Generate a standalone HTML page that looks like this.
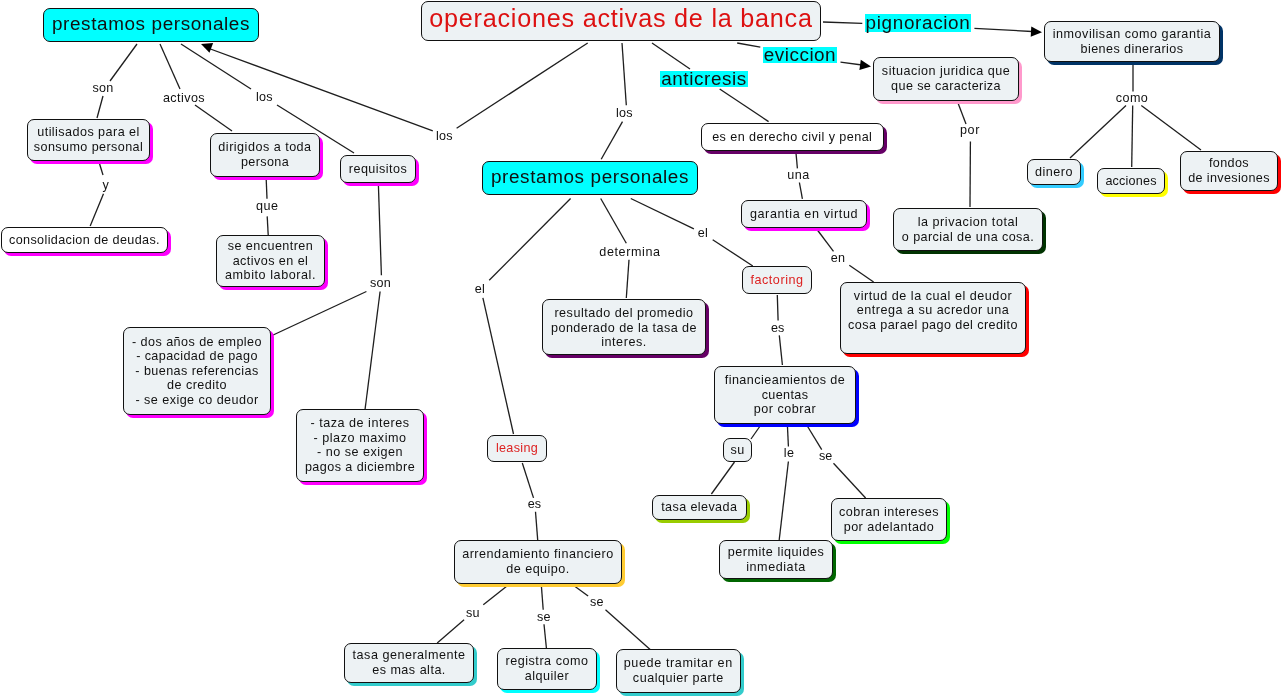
<!DOCTYPE html>
<html><head><meta charset="utf-8"><title>mapa conceptual</title>
<style>
html,body{margin:0;padding:0;background:#fff;}
body{will-change:transform;width:1284px;height:698px;position:relative;overflow:hidden;font-family:"Liberation Sans",sans-serif;color:#111;}
svg.links{position:absolute;left:0;top:0;}
.n{position:absolute;box-sizing:border-box;border:1.4px solid #111;border-radius:7px;display:flex;flex-direction:column;align-items:center;justify-content:center;text-align:center;line-height:14.6px;white-space:nowrap;}
.n span{display:block;}
.l{position:absolute;white-space:nowrap;line-height:1;}
.c{position:absolute;background:#00ffff;color:#111;white-space:nowrap;display:flex;align-items:center;justify-content:center;}
</style></head><body>

<svg class="links" width="1284" height="698" viewBox="0 0 1284 698">
<line x1="137" y1="44" x2="110" y2="81" stroke="#1e1e1e" stroke-width="1.3"/>
<line x1="103" y1="96" x2="97" y2="118" stroke="#1e1e1e" stroke-width="1.3"/>
<line x1="99" y1="162" x2="103" y2="175" stroke="#1e1e1e" stroke-width="1.3"/>
<line x1="103.5" y1="193.8" x2="90.2" y2="226" stroke="#1e1e1e" stroke-width="1.3"/>
<line x1="160" y1="44" x2="180" y2="89" stroke="#1e1e1e" stroke-width="1.3"/>
<line x1="195" y1="105" x2="232" y2="131" stroke="#1e1e1e" stroke-width="1.3"/>
<line x1="181" y1="44" x2="251" y2="89" stroke="#1e1e1e" stroke-width="1.3"/>
<line x1="277" y1="105" x2="354" y2="153" stroke="#1e1e1e" stroke-width="1.3"/>
<line x1="587.7" y1="43" x2="456.6" y2="128.3" stroke="#1e1e1e" stroke-width="1.3"/>
<line x1="432.8" y1="130.8" x2="205" y2="47" stroke="#1e1e1e" stroke-width="1.3"/>
<line x1="622" y1="43" x2="626.3" y2="105.3" stroke="#1e1e1e" stroke-width="1.3"/>
<line x1="622.5" y1="121.6" x2="601.2" y2="159.2" stroke="#1e1e1e" stroke-width="1.3"/>
<line x1="652" y1="43" x2="690" y2="69" stroke="#1e1e1e" stroke-width="1.3"/>
<line x1="719.7" y1="89" x2="768.6" y2="121.6" stroke="#1e1e1e" stroke-width="1.3"/>
<line x1="737.2" y1="43" x2="760.3" y2="47.1" stroke="#1e1e1e" stroke-width="1.3"/>
<line x1="840.5" y1="62.2" x2="862" y2="65" stroke="#1e1e1e" stroke-width="1.3"/>
<line x1="823" y1="22" x2="862.3" y2="23.3" stroke="#1e1e1e" stroke-width="1.3"/>
<line x1="974.4" y1="28.3" x2="1032" y2="31.5" stroke="#1e1e1e" stroke-width="1.3"/>
<line x1="1133" y1="61" x2="1133" y2="91.4" stroke="#1e1e1e" stroke-width="1.3"/>
<line x1="1126" y1="105.5" x2="1070" y2="158" stroke="#1e1e1e" stroke-width="1.3"/>
<line x1="1132.7" y1="105.5" x2="1131.7" y2="167" stroke="#1e1e1e" stroke-width="1.3"/>
<line x1="1141.3" y1="105.5" x2="1201" y2="150" stroke="#1e1e1e" stroke-width="1.3"/>
<line x1="958" y1="103" x2="966" y2="124" stroke="#1e1e1e" stroke-width="1.3"/>
<line x1="970.4" y1="141.4" x2="970" y2="207" stroke="#1e1e1e" stroke-width="1.3"/>
<line x1="795.9" y1="152" x2="797.4" y2="168.4" stroke="#1e1e1e" stroke-width="1.3"/>
<line x1="799.4" y1="182.5" x2="802.4" y2="198.8" stroke="#1e1e1e" stroke-width="1.3"/>
<line x1="817.4" y1="230" x2="833.5" y2="251.4" stroke="#1e1e1e" stroke-width="1.3"/>
<line x1="849.3" y1="265.2" x2="873.6" y2="282" stroke="#1e1e1e" stroke-width="1.3"/>
<line x1="570.6" y1="198.5" x2="489.2" y2="280.3" stroke="#1e1e1e" stroke-width="1.3"/>
<line x1="482.9" y1="297.8" x2="513.5" y2="434" stroke="#1e1e1e" stroke-width="1.3"/>
<line x1="600.7" y1="198.5" x2="626.3" y2="243.2" stroke="#1e1e1e" stroke-width="1.3"/>
<line x1="629" y1="259.7" x2="626.3" y2="298" stroke="#1e1e1e" stroke-width="1.3"/>
<line x1="630.8" y1="198.5" x2="693.9" y2="228.9" stroke="#1e1e1e" stroke-width="1.3"/>
<line x1="712.7" y1="239.7" x2="752.8" y2="266" stroke="#1e1e1e" stroke-width="1.3"/>
<line x1="777.3" y1="295" x2="778.1" y2="320.4" stroke="#1e1e1e" stroke-width="1.3"/>
<line x1="779.3" y1="335.4" x2="782.4" y2="365" stroke="#1e1e1e" stroke-width="1.3"/>
<line x1="760.8" y1="425" x2="751" y2="439" stroke="#1e1e1e" stroke-width="1.3"/>
<line x1="734.5" y1="462" x2="711.4" y2="494" stroke="#1e1e1e" stroke-width="1.3"/>
<line x1="787.4" y1="425" x2="788.4" y2="446.5" stroke="#1e1e1e" stroke-width="1.3"/>
<line x1="788.4" y1="461.5" x2="779.2" y2="540" stroke="#1e1e1e" stroke-width="1.3"/>
<line x1="806.7" y1="425" x2="821.7" y2="449.7" stroke="#1e1e1e" stroke-width="1.3"/>
<line x1="833.5" y1="463.3" x2="865.6" y2="498" stroke="#1e1e1e" stroke-width="1.3"/>
<line x1="378.4" y1="185" x2="381.4" y2="275.3" stroke="#1e1e1e" stroke-width="1.3"/>
<line x1="366.4" y1="291.5" x2="271" y2="336" stroke="#1e1e1e" stroke-width="1.3"/>
<line x1="380.1" y1="291.5" x2="365.1" y2="409" stroke="#1e1e1e" stroke-width="1.3"/>
<line x1="266.2" y1="179" x2="267" y2="198.8" stroke="#1e1e1e" stroke-width="1.3"/>
<line x1="267.2" y1="216.4" x2="268.2" y2="235" stroke="#1e1e1e" stroke-width="1.3"/>
<line x1="522.3" y1="463" x2="533.5" y2="497.9" stroke="#1e1e1e" stroke-width="1.3"/>
<line x1="535.5" y1="511.7" x2="537.7" y2="540" stroke="#1e1e1e" stroke-width="1.3"/>
<line x1="507" y1="586" x2="483.3" y2="604.8" stroke="#1e1e1e" stroke-width="1.3"/>
<line x1="464.1" y1="619.8" x2="437.2" y2="643" stroke="#1e1e1e" stroke-width="1.3"/>
<line x1="541.4" y1="586" x2="543.2" y2="609.8" stroke="#1e1e1e" stroke-width="1.3"/>
<line x1="544" y1="624.3" x2="546.4" y2="648" stroke="#1e1e1e" stroke-width="1.3"/>
<line x1="574.4" y1="586" x2="588.1" y2="596.1" stroke="#1e1e1e" stroke-width="1.3"/>
<line x1="605.5" y1="609.8" x2="650.7" y2="650" stroke="#1e1e1e" stroke-width="1.3"/>
<polygon points="201.0,44.0 213.1,43.0 209.5,52.7" fill="#000"/>
<polygon points="871.0,66.4 859.4,70.1 860.8,59.7" fill="#000"/>
<polygon points="1042.0,32.3 1030.7,36.8 1031.3,26.5" fill="#000"/>
</svg>
<div class="n" style="left:43px;top:8px;width:216px;height:34px;background:#00ffff;color:#111;line-height:22px;padding-bottom:3px;"><span style="font-size:18.90px;letter-spacing:0.612px">prestamos personales</span></div>
<div class="n" style="left:421px;top:1px;width:400px;height:40px;background:#edf2f4;color:#dd1111;line-height:22px;padding-bottom:6px;"><span style="font-size:25.20px;letter-spacing:0.759px">operaciones activas de la banca</span></div>
<div class="n" style="left:873px;top:57px;width:146px;height:44px;background:#edf2f4;color:#111;box-shadow:3px 3px 0 #ff99cc;"><span style="font-size:12.60px;letter-spacing:0.485px">situacion juridica que</span><span style="font-size:12.60px;letter-spacing:0.382px">que se caracteriza</span></div>
<div class="n" style="left:1044px;top:21px;width:176px;height:41px;background:#edf2f4;color:#111;box-shadow:3px 3px 0 #003366;"><span style="font-size:12.60px;letter-spacing:0.517px">inmovilisan como garantia</span><span style="font-size:12.60px;letter-spacing:0.409px">bienes dinerarios</span></div>
<div class="n" style="left:1027px;top:159px;width:54px;height:26px;background:#edf2f4;color:#111;box-shadow:3px 3px 0 #33ccff;"><span style="font-size:12.60px;letter-spacing:0.482px">dinero</span></div>
<div class="n" style="left:1097px;top:168px;width:68px;height:26px;background:#edf2f4;color:#111;box-shadow:3px 3px 0 #ffff00;"><span style="font-size:12.60px;letter-spacing:0.193px">acciones</span></div>
<div class="n" style="left:1180px;top:151px;width:98px;height:40px;background:#edf2f4;color:#111;box-shadow:3px 3px 0 #ff0000;"><span style="font-size:12.60px;letter-spacing:0.379px">fondos</span><span style="font-size:12.60px;letter-spacing:0.364px">de invesiones</span></div>
<div class="n" style="left:27px;top:119px;width:123px;height:42px;background:#edf2f4;color:#111;box-shadow:3px 3px 0 #ff00ff;"><span style="font-size:12.60px;letter-spacing:0.444px">utilisados para el</span><span style="font-size:12.60px;letter-spacing:0.410px">sonsumo personal</span></div>
<div class="n" style="left:1px;top:227px;width:167px;height:26px;background:#ffffff;color:#111;box-shadow:3px 3px 0 #ff00ff;"><span style="font-size:12.60px;letter-spacing:0.363px">consolidacion de deudas.</span></div>
<div class="n" style="left:210px;top:133px;width:110px;height:44px;background:#edf2f4;color:#111;box-shadow:3px 3px 0 #ff00ff;"><span style="font-size:12.60px;letter-spacing:0.490px">dirigidos a toda</span><span style="font-size:12.60px;letter-spacing:0.363px">persona</span></div>
<div class="n" style="left:216px;top:235px;width:109px;height:52px;background:#edf2f4;color:#111;box-shadow:3px 3px 0 #ff00ff;"><span style="font-size:12.60px;letter-spacing:0.437px">se encuentren</span><span style="font-size:12.60px;letter-spacing:0.436px">activos en el</span><span style="font-size:12.60px;letter-spacing:0.564px">ambito laboral.</span></div>
<div class="n" style="left:340px;top:155px;width:76px;height:28px;background:#edf2f4;color:#111;box-shadow:3px 3px 0 #ff00ff;"><span style="font-size:12.60px;letter-spacing:0.452px">requisitos</span></div>
<div class="n" style="left:123px;top:327px;width:148px;height:88px;background:#edf2f4;color:#111;box-shadow:3px 3px 0 #ff00ff;"><span style="font-size:12.60px;letter-spacing:0.440px">- dos años de empleo</span><span style="font-size:12.60px;letter-spacing:0.394px">- capacidad de pago</span><span style="font-size:12.60px;letter-spacing:0.423px">- buenas referencias</span><span style="font-size:12.60px;letter-spacing:0.481px">de credito</span><span style="font-size:12.60px;letter-spacing:0.450px">- se exige co deudor</span></div>
<div class="n" style="left:296px;top:409px;width:128px;height:72.5px;background:#edf2f4;color:#111;box-shadow:3px 3px 0 #ff00ff;"><span style="font-size:12.60px;letter-spacing:0.513px">- taza de interes</span><span style="font-size:12.60px;letter-spacing:0.560px">- plazo maximo</span><span style="font-size:12.60px;letter-spacing:0.475px">- no se exigen</span><span style="font-size:12.60px;letter-spacing:0.426px">pagos a diciembre</span></div>
<div class="n" style="left:482px;top:161px;width:216px;height:34px;background:#00ffff;color:#111;line-height:22px;padding-bottom:3px;"><span style="font-size:18.90px;letter-spacing:0.612px">prestamos personales</span></div>
<div class="n" style="left:542px;top:299px;width:164px;height:56px;background:#edf2f4;color:#111;box-shadow:3px 3px 0 #660066;padding-top:2px;"><span style="font-size:12.60px;letter-spacing:0.501px">resultado del promedio</span><span style="font-size:12.60px;letter-spacing:0.441px">ponderado de la tasa de</span><span style="font-size:12.60px;letter-spacing:0.541px">interes.</span></div>
<div class="n" style="left:742px;top:266px;width:70px;height:28px;background:#edf2f4;color:#dd2222;"><span style="font-size:12.60px;letter-spacing:0.538px">factoring</span></div>
<div class="n" style="left:701px;top:123px;width:182.5px;height:28px;background:#ffffff;color:#111;box-shadow:3px 3px 0 #660066;"><span style="font-size:12.60px;letter-spacing:0.436px">es en derecho civil y penal</span></div>
<div class="n" style="left:741px;top:200px;width:126px;height:28px;background:#edf2f4;color:#111;box-shadow:3px 3px 0 #ff00ff;"><span style="font-size:12.60px;letter-spacing:0.607px">garantia en virtud</span></div>
<div class="n" style="left:893px;top:208px;width:150px;height:43px;background:#edf2f4;color:#111;box-shadow:3px 3px 0 #003300;"><span style="font-size:12.60px;letter-spacing:0.539px">la privacion total</span><span style="font-size:12.60px;letter-spacing:0.413px">o parcial de una cosa.</span></div>
<div class="n" style="left:840px;top:282px;width:186px;height:72px;background:#edf2f4;color:#111;box-shadow:3px 3px 0 #ff0000;"><span style="font-size:12.60px;letter-spacing:0.522px">virtud de la cual el deudor</span><span style="font-size:12.60px;letter-spacing:0.481px">entrega a su acredor una</span><span style="font-size:12.60px;letter-spacing:0.416px">cosa parael pago del credito</span><span>&nbsp;</span></div>
<div class="n" style="left:714px;top:366px;width:142px;height:58px;background:#edf2f4;color:#111;box-shadow:3px 3px 0 #0000ff;"><span style="font-size:12.60px;letter-spacing:0.449px">financieamientos de</span><span style="font-size:12.60px;letter-spacing:0.377px">cuentas</span><span style="font-size:12.60px;letter-spacing:0.513px">por cobrar</span></div>
<div class="n" style="left:723px;top:438px;width:29px;height:24px;background:#edf2f4;color:#111;"><span style="font-size:12.60px;letter-spacing:0.269px">su</span></div>
<div class="n" style="left:652px;top:495px;width:94.5px;height:25px;background:#edf2f4;color:#111;box-shadow:3px 3px 0 #99cc00;"><span style="font-size:12.60px;letter-spacing:0.391px">tasa elevada</span></div>
<div class="n" style="left:831px;top:498px;width:116px;height:43px;background:#edf2f4;color:#111;box-shadow:3px 3px 0 #00ff00;"><span style="font-size:12.60px;letter-spacing:0.417px">cobran intereses</span><span style="font-size:12.60px;letter-spacing:0.474px">por adelantado</span></div>
<div class="n" style="left:719px;top:540px;width:114px;height:39px;background:#edf2f4;color:#111;box-shadow:3px 3px 0 #006600;"><span style="font-size:12.60px;letter-spacing:0.524px">permite liquides</span><span style="font-size:12.60px;letter-spacing:0.553px">inmediata</span></div>
<div class="n" style="left:487px;top:435px;width:60px;height:27px;background:#edf2f4;color:#dd2222;"><span style="font-size:12.60px;letter-spacing:0.333px">leasing</span></div>
<div class="n" style="left:454px;top:540px;width:168px;height:44px;background:#edf2f4;color:#111;box-shadow:3px 3px 0 #ffcc33;"><span style="font-size:12.60px;letter-spacing:0.517px">arrendamiento financiero</span><span style="font-size:12.60px;letter-spacing:0.463px">de equipo.</span></div>
<div class="n" style="left:344px;top:643px;width:130px;height:40px;background:#edf2f4;color:#111;box-shadow:3px 3px 0 #33cccc;"><span style="font-size:12.60px;letter-spacing:0.500px">tasa generalmente</span><span style="font-size:12.60px;letter-spacing:0.485px">es mas alta.</span></div>
<div class="n" style="left:497px;top:648px;width:100px;height:42px;background:#edf2f4;color:#111;box-shadow:3px 3px 0 #00ffff;"><span style="font-size:12.60px;letter-spacing:0.517px">registra como</span><span style="font-size:12.60px;letter-spacing:0.474px">alquiler</span></div>
<div class="n" style="left:615.5px;top:649px;width:125.5px;height:44px;background:#edf2f4;color:#111;box-shadow:3px 3px 0 #33cccc;"><span style="font-size:12.60px;letter-spacing:0.608px">puede tramitar en</span><span style="font-size:12.60px;letter-spacing:0.501px">cualquier parte</span></div>
<div class="l" style="left:63.0px;top:82.3px;width:80px;text-align:center;font-size:12.60px"><span style="font-size:12.60px;letter-spacing:0.271px">son</span></div>
<div class="l" style="left:144.0px;top:92.1px;width:80px;text-align:center;font-size:12.60px"><span style="font-size:12.60px;letter-spacing:0.410px">activos</span></div>
<div class="l" style="left:224.4px;top:90.8px;width:80px;text-align:center;font-size:12.60px"><span style="font-size:12.60px;letter-spacing:0.240px">los</span></div>
<div class="l" style="left:66.0px;top:178.8px;width:80px;text-align:center;font-size:12.60px"><span style="font-size:12.60px;letter-spacing:0.778px">y</span></div>
<div class="l" style="left:227.2px;top:199.9px;width:80px;text-align:center;font-size:12.60px"><span style="font-size:12.60px;letter-spacing:0.399px">que</span></div>
<div class="l" style="left:340.5px;top:277.3px;width:80px;text-align:center;font-size:12.60px"><span style="font-size:12.60px;letter-spacing:0.271px">son</span></div>
<div class="l" style="left:404.4px;top:129.7px;width:80px;text-align:center;font-size:12.60px"><span style="font-size:12.60px;letter-spacing:0.240px">los</span></div>
<div class="l" style="left:584.4px;top:106.6px;width:80px;text-align:center;font-size:12.60px"><span style="font-size:12.60px;letter-spacing:0.240px">los</span></div>
<div class="l" style="left:440.0px;top:283.3px;width:80px;text-align:center;font-size:12.60px"><span style="font-size:12.60px;letter-spacing:0.317px">el</span></div>
<div class="l" style="left:590.0px;top:246.3px;width:80px;text-align:center;font-size:12.60px"><span style="font-size:12.60px;letter-spacing:0.595px">determina</span></div>
<div class="l" style="left:663.0px;top:227.0px;width:80px;text-align:center;font-size:12.60px"><span style="font-size:12.60px;letter-spacing:0.317px">el</span></div>
<div class="l" style="left:737.6px;top:321.9px;width:80px;text-align:center;font-size:12.60px"><span style="font-size:12.60px;letter-spacing:0.046px">es</span></div>
<div class="l" style="left:758.5px;top:169.3px;width:80px;text-align:center;font-size:12.60px"><span style="font-size:12.60px;letter-spacing:0.455px">una</span></div>
<div class="l" style="left:798.0px;top:251.5px;width:80px;text-align:center;font-size:12.60px"><span style="font-size:12.60px;letter-spacing:0.364px">en</span></div>
<div class="l" style="left:930.0px;top:124.3px;width:80px;text-align:center;font-size:12.60px"><span style="font-size:12.60px;letter-spacing:0.557px">por</span></div>
<div class="l" style="left:1092.0px;top:91.6px;width:80px;text-align:center;font-size:12.60px"><span style="font-size:12.60px;letter-spacing:0.420px">como</span></div>
<div class="l" style="left:749.0px;top:447.1px;width:80px;text-align:center;font-size:12.60px"><span style="font-size:12.60px;letter-spacing:0.317px">le</span></div>
<div class="l" style="left:785.7px;top:449.6px;width:80px;text-align:center;font-size:12.60px"><span style="font-size:12.60px;letter-spacing:0.046px">se</span></div>
<div class="l" style="left:494.4px;top:497.9px;width:80px;text-align:center;font-size:12.60px"><span style="font-size:12.60px;letter-spacing:0.046px">es</span></div>
<div class="l" style="left:432.8px;top:606.6px;width:80px;text-align:center;font-size:12.60px"><span style="font-size:12.60px;letter-spacing:0.269px">su</span></div>
<div class="l" style="left:503.8px;top:611.1px;width:80px;text-align:center;font-size:12.60px"><span style="font-size:12.60px;letter-spacing:0.046px">se</span></div>
<div class="l" style="left:556.8px;top:595.6px;width:80px;text-align:center;font-size:12.60px"><span style="font-size:12.60px;letter-spacing:0.046px">se</span></div>
<div class="c" style="left:865px;top:14px;width:106px;height:18px"><span style="font-size:18.90px;letter-spacing:0.644px">pignoracion</span></div>
<div class="c" style="left:763px;top:47px;width:74px;height:16px"><span style="font-size:18.90px;letter-spacing:0.501px">eviccion</span></div>
<div class="c" style="left:660px;top:71px;width:88px;height:16px"><span style="font-size:18.90px;letter-spacing:0.588px">anticresis</span></div>
</body></html>
